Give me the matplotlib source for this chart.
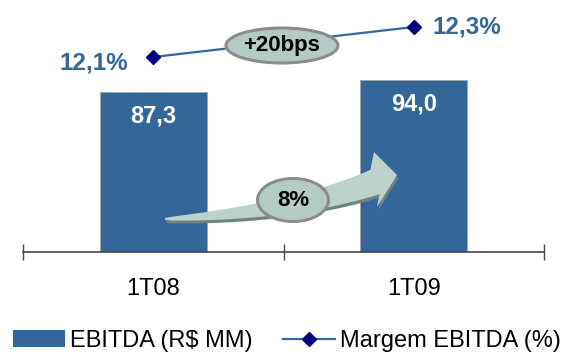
import matplotlib.pyplot as plt
import matplotlib.transforms as mtransforms
from matplotlib.patches import Ellipse, Polygon, Patch
from matplotlib.lines import Line2D
import numpy as np

plt.rcParams['font.family'] = ['Liberation Sans', 'DejaVu Sans']

periodos = ['1T08', '1T09']
ebitda = [87.3, 94.0]
margem = [12.1, 12.3]
rotulos_ebitda = ['87,3', '94,0']
rotulos_margem = ['12,1%', '12,3%']
var_margem = '+20bps'
var_ebitda = '8%'

azul = '#336699'
azul_linha = '#3466a2'
marcador = '#000080'
fundo_balao = '#b4cbc5'

fig = plt.figure(figsize=(5.67, 3.52), dpi=100)
# pixel coords from the top-left corner of the figure
px = mtransforms.Affine2D().scale(1 / 567, -1 / 352).translate(0, 1) + fig.transFigure

ax = fig.add_axes([23 / 567, 100 / 352, 521 / 567, 252 / 352])
x = np.arange(len(periodos))
barras = ax.bar(x, ebitda, width=0.41, color=azul, edgecolor='#a0a8b0', linewidth=0.6, zorder=2)
for b, txt in zip(barras, rotulos_ebitda):
    ax.annotate(txt, (b.get_x() + b.get_width() / 2, b.get_height()), xytext=(0, -17),
                textcoords='offset points', ha='center', va='center',
                color='white', fontsize=17, fontweight='bold', zorder=5)
ax.set_xlim(-0.5, 1.5)
ax.set_ylim(0, 137.7)
for s in ['top', 'left', 'right']:
    ax.spines[s].set_visible(False)
ax.spines['bottom'].set_color('#444444')
ax.spines['bottom'].set_linewidth(1.2)
ax.set_yticks([])
ax.set_xticks([-0.5, 0.5, 1.5])
ax.set_xticklabels([])
ax.tick_params(axis='x', which='major', direction='inout', length=11, color='#444444', width=1)
ax.set_xticks(x, minor=True)
ax.set_xticklabels(periodos, minor=True, fontsize=17)
ax.tick_params(axis='x', which='minor', length=0, pad=19)

# margin line on a secondary scale
ax2 = ax.twinx()
ax2.set_ylim(10.8, 12.48)
ax2.axis('off')
ax2.plot(x, margem, color=azul_linha, linewidth=1.6, marker='D', markersize=7.5,
         markerfacecolor=marcador, markeredgecolor=marcador, zorder=3)
ax2.annotate(rotulos_margem[0], (x[0], margem[0]), xytext=(-18, -4.5), textcoords='offset points',
             ha='right', va='center', color=azul, fontsize=17.5, fontweight='bold')
ax2.annotate(rotulos_margem[1], (x[1], margem[1]), xytext=(13.5, 0), textcoords='offset points',
             ha='left', va='center', color=azul, fontsize=17.5, fontweight='bold')

# curved growth arrow between the bars
t = np.linspace(0, 1, 50)
p0, p1, p2 = np.array([165, 219]), np.array([295, 212]), np.array([375, 182])
c = ((1 - t) ** 2)[:, None] * p0 + (2 * (1 - t) * t)[:, None] * p1 + (t ** 2)[:, None] * p2
d = (-2 * (1 - t))[:, None] * p0 + (2 - 4 * t)[:, None] * p1 + (2 * t)[:, None] * p2
nrm = np.stack([d[:, 1], -d[:, 0]], axis=1)
nrm /= np.linalg.norm(nrm, axis=1)[:, None]
w = 1 + 12 * t ** 0.75
top = c - nrm * w[:, None]
bot = c + nrm * w[:, None]
if top[-1, 1] > bot[-1, 1]:
    top, bot = bot, top
cabeca = np.array([[374, 152], [397, 175], [377, 207]])
pts = np.vstack([top, cabeca, bot[::-1]])
sombra = Polygon(pts + np.array([1.5, 3]), closed=True, transform=px, facecolor='#6f8480',
                 edgecolor='none', zorder=4)
seta = Polygon(pts, closed=True, transform=px, facecolor='#bdd1cc', edgecolor='none', zorder=4)
fig.add_artist(sombra)
fig.add_artist(seta)

for (cx, cy, ew, eh, fs), txt in [((282, 45.5, 112, 35, 16), var_margem),
                                  ((293, 200, 71, 43, 16), var_ebitda)]:
    fig.add_artist(Ellipse((cx, cy), ew, eh, transform=px, facecolor=fundo_balao,
                           edgecolor='#8c8c8c', linewidth=2.2, zorder=6))
    fig.text(cx, cy, txt, transform=px, ha='center', va='center', fontsize=fs,
             fontweight='bold', color='black', zorder=7)

handles = [Patch(facecolor=azul, edgecolor='none'),
           Line2D([], [], color=azul_linha, linewidth=1.6, marker='D', markersize=7.5,
                  markerfacecolor=marcador, markeredgecolor=marcador)]
fig.legend(handles, ['EBITDA (R$ MM)', 'Margem EBITDA (%)'], loc='center',
           bbox_to_anchor=(287 / 567, 1 - 341 / 352), ncol=2, frameon=False, fontsize=17,
           handlelength=2.2, handleheight=0.7, handletextpad=0.25, columnspacing=1.25,
           borderpad=0, borderaxespad=0)

fig.savefig('out.png', dpi=100)
